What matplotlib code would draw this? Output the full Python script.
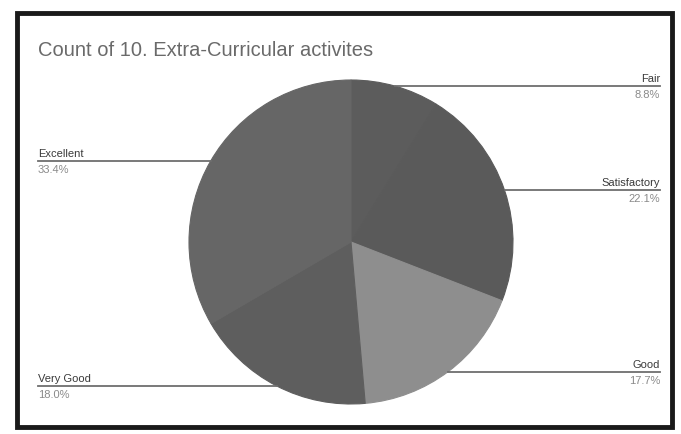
import numpy as np
import matplotlib.pyplot as plt
from matplotlib.patches import Rectangle

plt.rcParams['font.family'] = ['Liberation Sans', 'DejaVu Sans']

# slices, clockwise from 12 o'clock
labels = ['Fair', 'Satisfactory', 'Good', 'Very Good', 'Excellent']
perc = [8.8, 22.1, 17.7, 18.0, 33.4]
colors = ['#5c5c5c', '#5a5a5a', '#8e8e8e', '#5e5e5e', '#666666']
title = 'Count of 10. Extra-Curricular activites'

W, H = 681, 435
fig = plt.figure(figsize=(W / 100, H / 100), dpi=100)
ax = fig.add_axes([0, 0, 1, 1])

# frame
ax.add_patch(Rectangle((17, 7), 655, 414, fill=False, ec='#1a1a1a', lw=3.5))

cx, cy, r = 351, H - 243, 162
wedges, _ = ax.pie(perc, colors=colors, startangle=90, counterclock=False,
                   center=(cx, cy), radius=r, frame=True,
                   wedgeprops=dict(linewidth=0.8))
for w in wedges:
    w.set_edgecolor(w.get_facecolor())
ax.set_xlim(0, W)
ax.set_ylim(0, H)
ax.set_aspect('equal')
ax.axis('off')

ax.text(38, H - 50, title, fontsize=14.5, color='#6a6a6a', va='center', ha='left')

cum = np.cumsum([0] + perc)
for i, lab in enumerate(labels):
    mid = (cum[i] + cum[i + 1]) / 2 / 100 * 2 * np.pi
    px = cx + r * np.sin(mid)
    py = cy + r * np.cos(mid)
    if px >= cx:
        x_end, ha = 660, 'right'
    else:
        x_end, ha = 38, 'left'
    ax.plot([min(px, x_end), max(px, x_end)], [py, py], color='#6e6e6e', lw=1.3)
    ax.text(x_end, py + 3, lab, fontsize=8, color='#3a3a3a', ha=ha, va='bottom')
    ax.text(x_end, py - 3, f'{perc[i]:.1f}%', fontsize=8, color='#8a8a8a', ha=ha, va='top')

fig.savefig('out.png', dpi=100)
